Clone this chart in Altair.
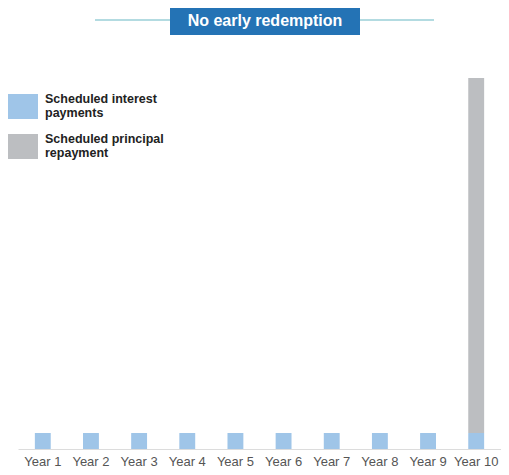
import altair as alt
import pandas as pd

years = ["Year 1", "Year 2", "Year 3", "Year 4", "Year 5",
         "Year 6", "Year 7", "Year 8", "Year 9", "Year 10"]
interest = [4.5, 4.5, 4.5, 4.5, 4.5, 4.5, 4.5, 4.5, 4.5, 4.5]
principal = [0, 0, 0, 0, 0, 0, 0, 0, 0, 100]
series_names = ["Scheduled interest payments", "Scheduled principal repayment"]
legend_lines = ["Scheduled interest\npayments", "Scheduled principal\nrepayment"]
series_colors = ["#9fc5e8", "#bcbec1"]
title_text = ["No early redemption"]

rows = []
for yr, i_val, p_val in zip(years, interest, principal):
    rows.append({"year": yr, "series": series_names[0], "value": i_val, "ord": 0})
    rows.append({"year": yr, "series": series_names[1], "value": p_val, "ord": 1})
df = pd.DataFrame(rows)

FONT = "Liberation Sans"

bars = alt.Chart(df).mark_bar().encode(
    x=alt.X("year:N", sort=years,
            scale=alt.Scale(paddingInner=0.67, paddingOuter=0.35),
            axis=alt.Axis(title=None, labelAngle=0, ticks=False,
                          domainColor="#dcdcdc", domainWidth=1,
                          labelColor="#555555", labelFontSize=13,
                          labelPadding=6, labelFont=FONT)),
    y=alt.Y("value:Q", stack=True,
            scale=alt.Scale(domain=[0, 104.5], nice=False), axis=None),
    color=alt.Color("series:N",
                    scale=alt.Scale(domain=series_names, range=series_colors),
                    legend=None),
    order=alt.Order("ord:Q"),
)

# Custom legend (two entries)
legend_layers = []
sym_tops = [16, 56]
for k in range(2):
    ldf = pd.DataFrame({"label": [legend_lines[k]]})
    legend_layers.append(
        alt.Chart(ldf).mark_rect(color=series_colors[k]).encode(
            x=alt.value(-10), x2=alt.value(20),
            y=alt.value(sym_tops[k]), y2=alt.value(sym_tops[k] + 25)))
    legend_layers.append(
        alt.Chart(ldf).mark_text(align="left", baseline="top", lineBreak="\n",
                                 lineHeight=14, font=FONT, fontSize=12.5,
                                 fontWeight="bold", color="#222222").encode(
            x=alt.value(27), y=alt.value(sym_tops[k] - 1), text="label:N"))

tdf = pd.DataFrame({"t": title_text})
rule = alt.Chart(tdf).mark_rule(color="#b3dbe1", strokeWidth=2).encode(
    x=alt.value(77), x2=alt.value(416), y=alt.value(-58))
box = alt.Chart(tdf).mark_rect(color="#2473b5").encode(
    x=alt.value(152), x2=alt.value(342), y=alt.value(-70), y2=alt.value(-43))
txt = alt.Chart(tdf).mark_text(color="white", font=FONT, fontSize=16,
                               fontWeight="bold", baseline="middle").encode(
    x=alt.value(247), y=alt.value(-57), text="t:N")

chart = alt.layer(bars, *legend_layers, rule, box, txt).properties(
    width=483, height=371,
    padding={"left": 10, "top": 70, "right": 0, "bottom": 18},
    autosize="none",
).configure_view(stroke=None)

chart.save("out.html", embed_options={"renderer": "svg", "actions": False})
